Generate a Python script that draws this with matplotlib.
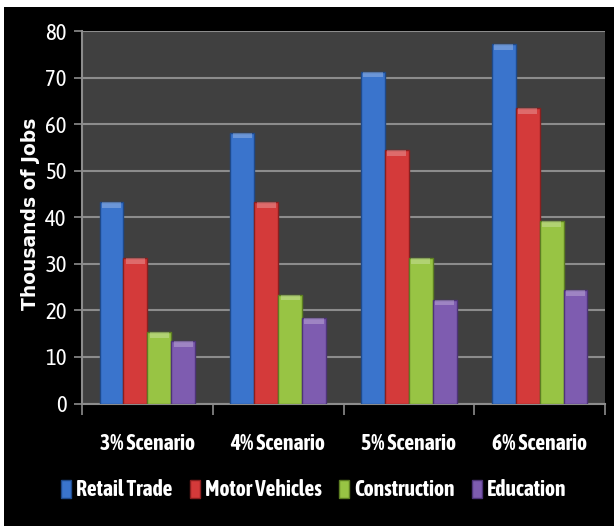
import matplotlib
matplotlib.use("Agg")
import matplotlib.pyplot as plt
from matplotlib.patches import Rectangle, Patch
from matplotlib import font_manager
import numpy as np

categories = ["3% Scenario", "4% Scenario", "5% Scenario", "6% Scenario"]
series_names = ["Retail Trade", "Motor Vehicles", "Construction", "Education"]
retail = [43.2, 58.2, 71.3, 77.2]
motor = [31.2, 43.2, 54.4, 63.4]
construction = [15.3, 23.4, 31.2, 39.2]
education = [13.4, 18.3, 22.3, 24.3]
yticks = [0, 10, 20, 30, 40, 50, 60, 70, 80]

colors = ["#3a74cc", "#d43a3a", "#98c444", "#7e5cb0"]
edges = ["#1f4a8a", "#8a1f1f", "#5d7e22", "#4e3478"]

names = {f.name for f in font_manager.fontManager.ttflist}
narrow = "Asap Condensed" if "Asap Condensed" in names else "DejaVu Sans"

fig = plt.figure(figsize=(6.14, 5.26), dpi=100, facecolor="white")
# black panel (white strip at top/left like the original)
fig.patches.append(Rectangle((4 / 614, 0), 1, (526 - 7) / 526, transform=fig.transFigure,
                             facecolor="black", edgecolor="none", zorder=-5))

ax = fig.add_axes([82 / 614, 1 - 403.5 / 526, (605 - 82) / 614, (403.5 - 31) / 526])
ax.set_facecolor("#404040")

data = [retail, motor, construction, education]
x = np.arange(len(categories))
w = 0.183
for i, (vals, c, e) in enumerate(zip(data, colors, edges)):
    pos = x + (i - 1.5) * w
    ax.bar(pos, vals, width=w, color=c, edgecolor=e, linewidth=1.0, zorder=3)
    # lighter bevel cap on top of each bar
    ax.bar(pos, [1.2] * len(vals), bottom=np.array(vals) - 1.2, width=w * 0.8,
           color="white", alpha=0.25, linewidth=0, zorder=4)

ax.set_xlim(-0.5, len(categories) - 0.5)
ax.set_ylim(0, 80)
ax.set_yticks(yticks)
ax.grid(axis="y", color="#8c8c8c", linewidth=1.5, zorder=1)
ax.set_axisbelow(True)

for s in ["top", "right"]:
    ax.spines[s].set_visible(False)
for s in ["left", "bottom"]:
    ax.spines[s].set_color("#8c8c8c")
    ax.spines[s].set_linewidth(1.5)

ax.set_xticks(np.arange(len(categories) + 1) - 0.5, minor=False)
ax.set_xticklabels([])
ax.tick_params(axis="x", direction="out", length=8, color="#8c8c8c", width=1.2)
ax.set_xticks(x, minor=True)
ax.set_xticklabels(categories, minor=True, fontfamily=narrow, fontweight="bold",
                   fontsize=15.5, color="white")
ax.tick_params(axis="x", which="minor", length=0, pad=21)

ax.tick_params(axis="y", direction="out", length=6, color="#8c8c8c", width=1.2,
               labelcolor="white", labelsize=16.5, pad=5)
for lab in ax.get_yticklabels():
    lab.set_fontfamily(narrow)

fig.text(31 / 614, 1 - 214 / 526, "Thousands of Jobs", rotation=90, color="white",
         fontsize=13.5, fontweight="bold", fontfamily="DejaVu Sans",
         ha="center", va="center")

handles = [Patch(facecolor=c, edgecolor=e) for c, e in zip(colors, edges)]
leg = fig.legend(handles, series_names, loc="center", bbox_to_anchor=(314 / 614, 1 - 490 / 526),
                 ncol=4, frameon=False, handlelength=0.45, handleheight=0.9,
                 handletextpad=0.25, columnspacing=0.8,
                 prop={"family": narrow, "weight": "bold", "size": 15.5})
for t in leg.get_texts():
    t.set_color("white")

fig.savefig("out.png", dpi=100, facecolor=fig.get_facecolor())
